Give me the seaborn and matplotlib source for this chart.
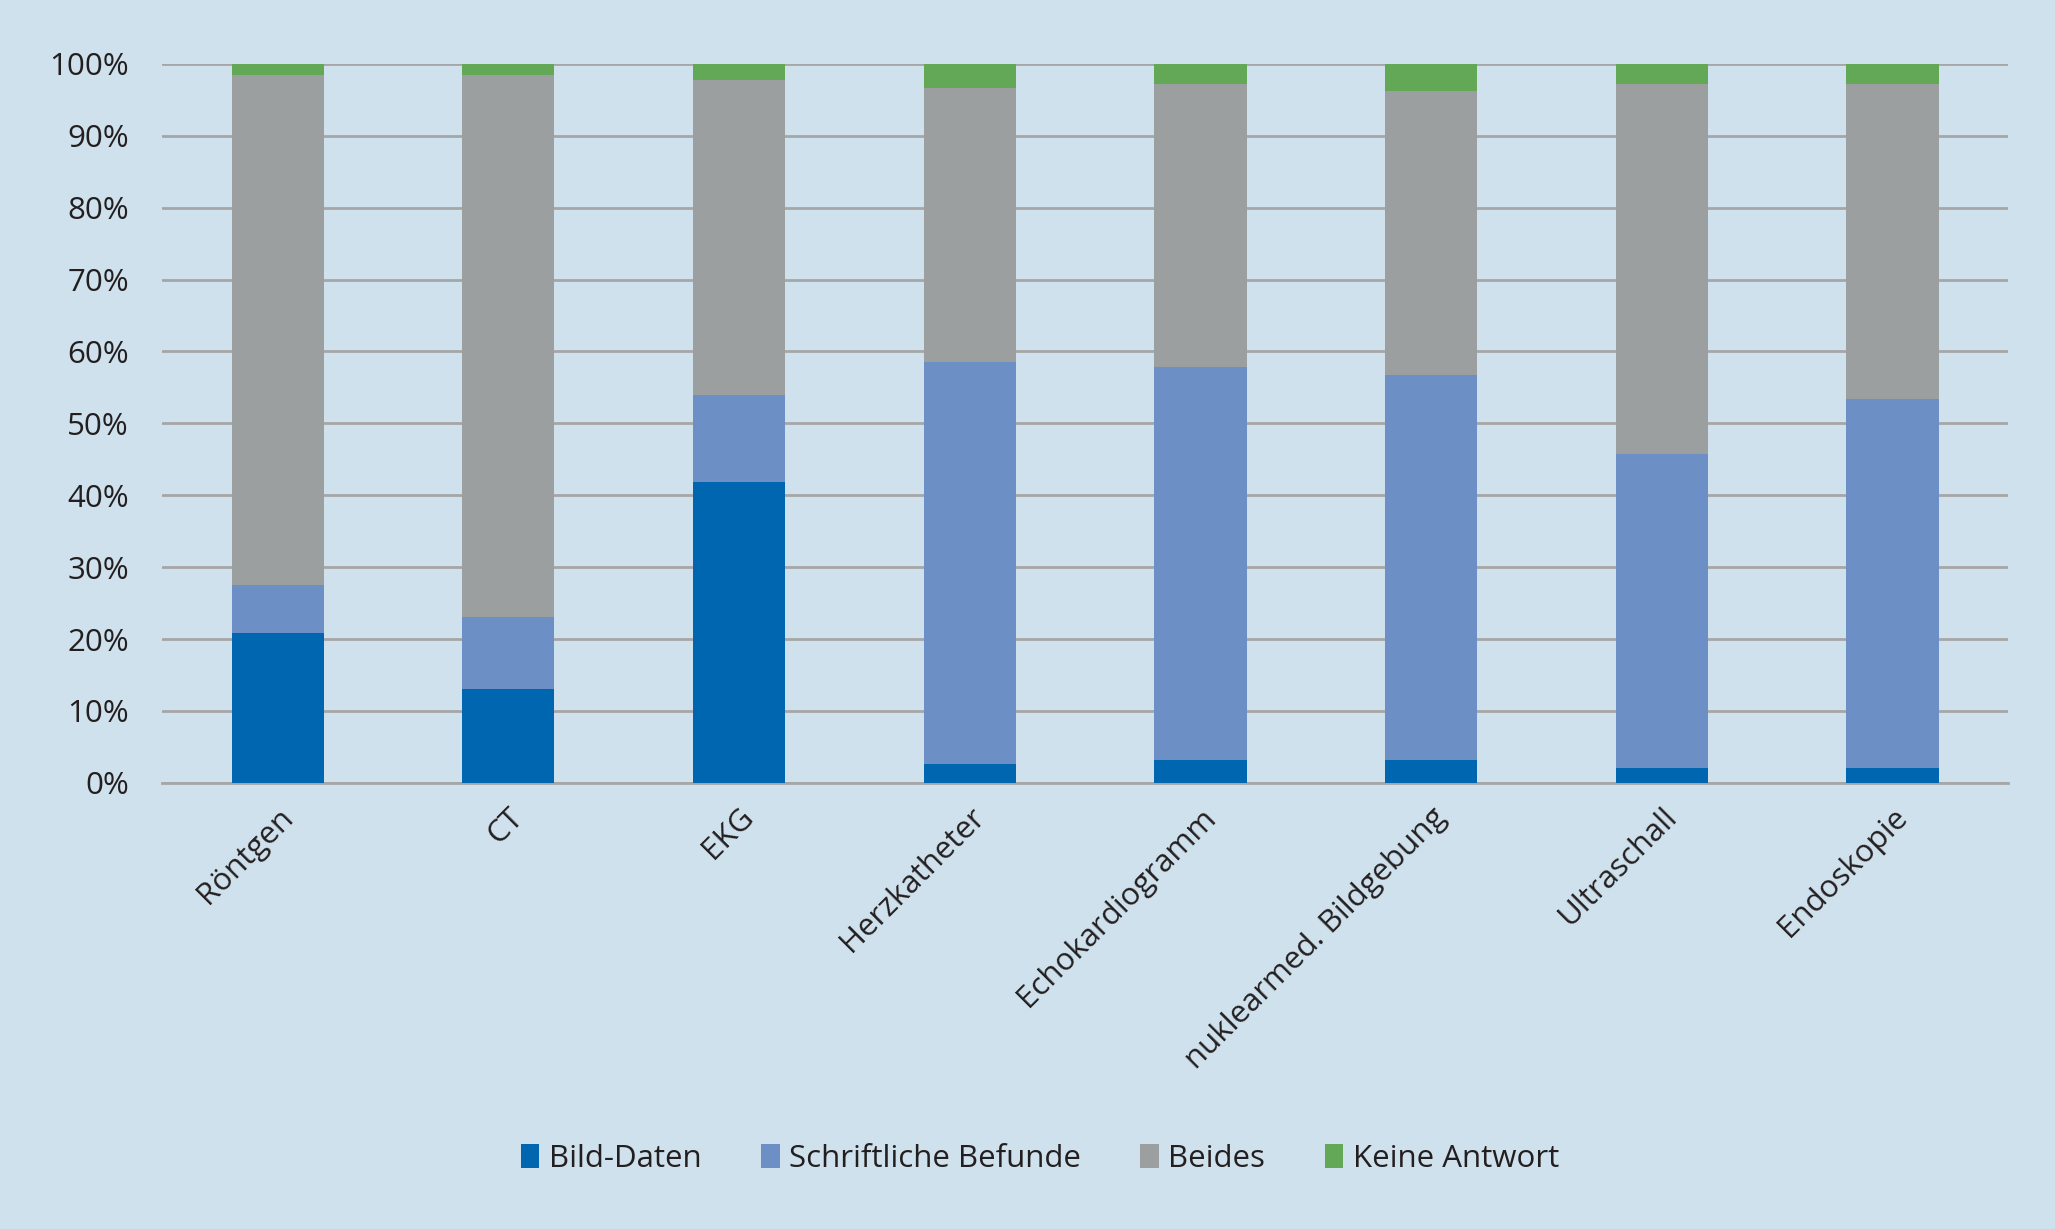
import numpy as np
import pandas as pd
import matplotlib
matplotlib.use("Agg")
import matplotlib.pyplot as plt
import seaborn as sns
from matplotlib.patches import Patch
from matplotlib.ticker import PercentFormatter

categories = ["Röntgen", "CT", "EKG", "Herzkatheter", "Echokardiogramm",
              "nuklearmed. Bildgebung", "Ultraschall", "Endoskopie"]
bild_daten = [20.9, 13.1, 41.8, 2.6, 3.2, 3.2, 2.0, 2.0]
schriftliche_befunde = [6.6, 10.0, 12.2, 55.9, 54.6, 53.5, 43.8, 51.4]
beides = [70.9, 75.3, 43.7, 38.1, 39.4, 39.5, 51.4, 43.8]
keine_antwort = [1.6, 1.6, 2.3, 3.4, 2.8, 3.8, 2.8, 2.8]

series = ["Bild-Daten", "Schriftliche Befunde", "Beides", "Keine Antwort"]
colors = ["#0066b0", "#6c8fc6", "#9b9fa0", "#63a856"]
bg = "#cfe1ec"

df = pd.DataFrame({"kategorie": categories,
                   series[0]: bild_daten,
                   series[1]: schriftliche_befunde,
                   series[2]: beides,
                   series[3]: keine_antwort})
cum = df[series].cumsum(axis=1)

sns.set_style("white")
plt.rcParams['font.family'] = ['Open Sans', 'DejaVu Sans']

fig, ax = plt.subplots(figsize=(20.55, 12.29), dpi=100)
fig.patch.set_facecolor(bg)
ax.set_facecolor(bg)
fig.subplots_adjust(left=0.079, right=0.977, top=0.948, bottom=0.363)

# stacked: draw cumulative totals from top layer down
for s, c in reversed(list(zip(series, colors))):
    sns.barplot(x=df["kategorie"], y=cum[s], color=c, width=0.4,
                saturation=1, ax=ax, zorder=3, linewidth=0, edgecolor=c)

ax.set_ylim(0, 100)
ax.set_xlim(-0.5, len(categories) - 0.5)
ax.set_yticks(np.arange(0, 101, 10))
ax.yaxis.set_major_formatter(PercentFormatter(decimals=0))
ax.grid(axis="y", color="#a6a6a6", linewidth=2, zorder=0)
ax.set_axisbelow(True)
for sp in ["top", "left", "right"]:
    ax.spines[sp].set_visible(False)
ax.spines["bottom"].set_color("#a6a6a6")
ax.spines["bottom"].set_linewidth(2)
ax.tick_params(axis="both", length=0, labelsize=22.5, colors="#231f20")
ax.tick_params(axis="y", pad=24)
ax.tick_params(axis="x", pad=14)
plt.setp(ax.get_xticklabels(), rotation=45, ha="right", rotation_mode="anchor")
ax.set_xlabel("")
ax.set_ylabel("")

handles = [Patch(facecolor=c, edgecolor="none", label=s) for s, c in zip(series, colors)]
fig.legend(handles=handles, loc="center", bbox_to_anchor=(0.506, 0.057),
           ncol=4, frameon=False, fontsize=22.5, handlelength=0.6,
           handleheight=0.8, handletextpad=0.3, columnspacing=1.9,
           labelcolor="#231f20")

fig.savefig("out.png", dpi=100, facecolor=bg)
